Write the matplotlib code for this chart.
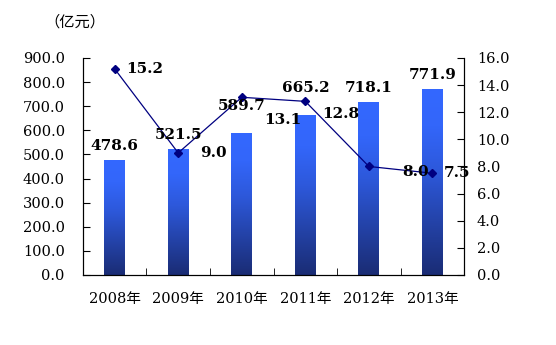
import numpy as np
import matplotlib.pyplot as plt
from matplotlib.colors import LinearSegmentedColormap

plt.rcParams['font.family'] = ['DejaVu Serif', 'Noto Sans CJK SC']

# datos
years = ['2008年', '2009年', '2010年', '2011年', '2012年', '2013年']
revenue = [478.6, 521.5, 589.7, 665.2, 718.1, 771.9]   # 亿元
growth = [15.2, 9.0, 13.1, 12.8, 8.0, 7.5]             # %

# desplazamiento de las etiquetas (puntos)
bar_label_offsets = [5, 5, 14, 14, 5, 5]
line_label_offsets = [(8, 0), (16, 0), (16, -16), (12, -9), (24, -4), (8, 0)]

fig = plt.figure(figsize=(5.56, 3.45), dpi=100)
ax = fig.add_axes([0.149, 0.203, 0.686, 0.629])
x = np.arange(len(years))

bars = ax.bar(x, revenue, width=0.33, color='none', zorder=2)

# degradado en cada barra
cmap = LinearSegmentedColormap.from_list(
    'g', [(0, '#1A2C74'), (0.55, '#2D58DA'), (0.8, '#3366FA'), (1, '#3468FF')])
grad = np.linspace(0, 1, 256).reshape(-1, 1)
for b in bars:
    x0, w, h = b.get_x(), b.get_width(), b.get_height()
    im = ax.imshow(grad, cmap=cmap, origin='lower', aspect='auto',
                   extent=[x0, x0 + w, 0, h], zorder=2)
    im.set_clip_path(b)

ax.set_xlim(-0.5, len(years) - 0.5)
ax.set_ylim(0, 900)
ax.set_yticks(np.arange(0, 901, 100))
ax.set_yticklabels([f'{t:.1f}' for t in np.arange(0, 901, 100)])
ax.set_xticks(x)
ax.set_xticklabels(years)
ax.set_xticks(x[:-1] + 0.5, minor=True)
ax.tick_params(axis='x', which='major', length=0, pad=12, labelsize=10.5)
ax.tick_params(axis='x', which='minor', direction='in', length=5)
ax.tick_params(axis='y', direction='in', length=5, pad=13, labelsize=10.5)
ax.spines['top'].set_visible(False)

ax2 = ax.twinx()
ax2.plot(x, growth, color='#000080', lw=0.9, marker='D', markersize=4.5, zorder=3)
ax2.set_ylim(0, 16)
ax2.set_yticks(np.arange(0, 17, 2))
ax2.set_yticklabels([f'{t:.1f}' for t in np.arange(0, 17, 2)])
ax2.tick_params(axis='y', direction='in', length=5, pad=9, labelsize=10.5)
ax2.spines['top'].set_visible(False)

# etiquetas de las barras encima de la linea
for xi, v, off in zip(x, revenue, bar_label_offsets):
    ax2.annotate(f'{v:.1f}', (xi, v), xycoords=ax.transData, xytext=(0, off),
                 textcoords='offset points', ha='center', va='bottom',
                 fontsize=11, fontweight='bold', zorder=5)

for xi, v, off in zip(x, growth, line_label_offsets):
    ax2.annotate(f'{v:.1f}', (xi, v), xytext=off, textcoords='offset points',
                 ha='left', va='center', fontsize=11, fontweight='bold', zorder=5)

fig.text(0.135, 0.935, '（亿元）', ha='center', va='center', fontsize=11,
         family=['Noto Sans CJK SC'])

fig.savefig('out.png', dpi=100)
